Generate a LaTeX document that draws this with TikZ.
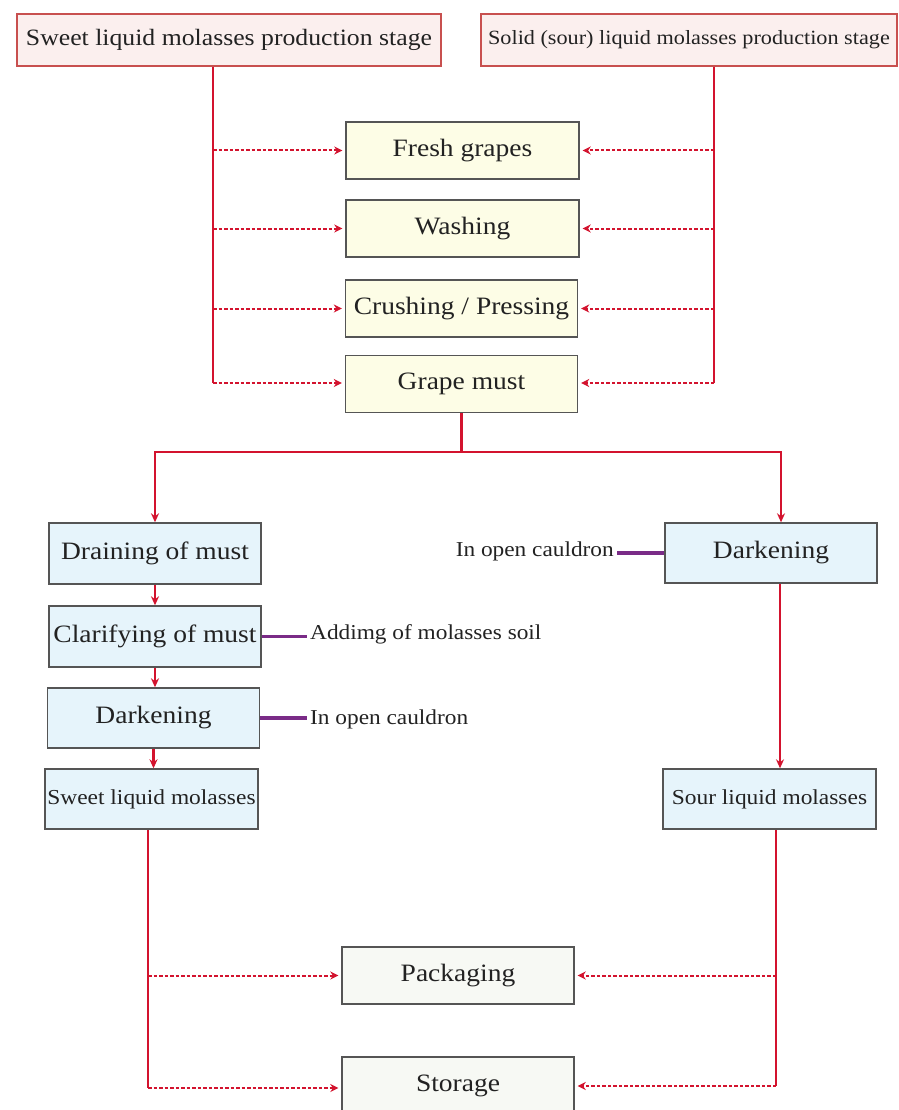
\documentclass[tikz,border=0pt]{standalone}
\usepackage{fontspec}
\setmainfont{Liberation Serif}[FakeStretch=1.1]
\usetikzlibrary{arrows.meta,calc}
\definecolor{redl}{HTML}{D3132E}
\definecolor{purp}{HTML}{7A2B87}
\definecolor{pinkf}{HTML}{FBEFEE}
\definecolor{pinkb}{HTML}{C8504F}
\definecolor{yelf}{HTML}{FDFDE6}
\definecolor{bluf}{HTML}{E6F4FB}
\definecolor{grnf}{HTML}{F7F9F4}
\definecolor{bord}{HTML}{555555}
\definecolor{txt}{HTML}{222222}
\tikzset{
  box/.style={draw=bord, line width=1.4pt, text=txt, inner sep=0pt, align=center},
  topbox/.style={box, draw=pinkb, fill=pinkf, minimum height=52pt, font=\fontsize{23.4}{26}\selectfont},
  ybox/.style={box, fill=yelf, minimum width=233pt, minimum height=57pt, font=\fontsize{25}{28}\selectfont},
  bbox/.style={box, fill=bluf, minimum width=212pt, minimum height=61pt, font=\fontsize{25}{28}\selectfont},
  sbox/.style={bbox, font=\fontsize{21.3}{24}\selectfont},
  gbox/.style={box, fill=grnf, minimum width=232pt, minimum height=57pt, font=\fontsize{25}{28}\selectfont},
  lbl/.style={text=txt, inner sep=3pt, font=\fontsize{21.2}{24}\selectfont},
  redline/.style={draw=redl, line width=2.6pt},
  redarr/.style={draw=redl, line width=2.6pt, -{Stealth[length=9pt,width=8pt]}},
  dasharr/.style={draw=redl, line width=2pt, dash pattern=on 3.5pt off 2pt, -{Stealth[length=8pt,width=8pt]}, shorten >=3pt},
  purpline/.style={draw=purp, line width=3.2pt},
}
\begin{document}
\begin{tikzpicture}[x=1pt,y=-1pt]
\clip (0,0) rectangle (898,1110);
\fill[white] (0,0) rectangle (898,1110);

% top stage boxes
\node[topbox, minimum width=424pt] (tl) at (229,40) {Sweet liquid molasses production stage};
\node[topbox, minimum width=416pt, font=\fontsize{20.2}{24}\selectfont] (tr) at (689,40) {Solid (sour) liquid molasses production stage};

% common steps
\node[ybox] (fg) at (462.5,150.5) {Fresh grapes};
\node[ybox] (wa) at (462.5,228.5) {Washing};
\node[ybox, minimum width=232pt] (cp) at (461.5,308.5) {Crushing / Pressing};
\node[ybox, minimum width=232pt] (gm) at (461.5,384) {Grape must};

% left column
\node[bbox] (dm) at (155,553.5) {Draining of must};
\node[bbox] (cm) at (155,636.5) {Clarifying of must};
\node[bbox, minimum height=60pt] (dk) at (153.5,718) {Darkening};
\node[sbox, minimum height=60pt, minimum width=213pt] (sw) at (151.5,799) {Sweet liquid molasses};

% right column
\node[bbox, minimum height=60pt] (dkr) at (771,553) {Darkening};
\node[sbox, minimum height=60pt, minimum width=213pt] (so) at (769.5,799) {Sour liquid molasses};

% side labels
\node[lbl, anchor=west] (l1) at (307,634) {Addimg of molasses soil};
\node[lbl, anchor=west] (l2) at (307,719) {In open cauldron};
\node[lbl, anchor=east] (l3) at (617,551) {In open cauldron};

% final steps
\node[gbox] (pk) at (458,975.5) {Packaging};
\node[gbox] (st) at (458,1085.5) {Storage};

% trunks top
\coordinate (lt) at (213,383);
\coordinate (rt) at (714,383);
\draw[redline] (tl.south -| lt) -- (lt);
\draw[redline] (tr.south -| rt) -- (rt);
\foreach \n in {fg,wa,cp} {
  \draw[dasharr] (\n.west -| lt) -- (\n.west);
  \draw[dasharr] (\n.east -| rt) -- (\n.east);
}
\draw[dasharr] (lt) -- (lt -| gm.west);
\draw[dasharr] (rt) -- (rt -| gm.east);

% split from grape must
\coordinate (jl) at (155,452);
\coordinate (jr) at (781,452);
\draw[redline] (gm.south) -- (gm.south |- jl);
\draw[redarr] (jl -| gm.south) -- (jl) -- (jl |- dm.north);
\draw[redarr] (jl -| gm.south) -- (jr) -- (jr |- dkr.north);

% left chain
\draw[redarr] (dm.south) -- (dm.south |- cm.north);
\draw[redarr] (cm.south) -- (cm.south |- dk.north);
\draw[redarr] (dk.south) -- (dk.south |- sw.north);

% right chain
\coordinate (rc) at (780,583);
\draw[redarr] (dkr.south -| rc) -- (so.north -| rc);

% purple connectors
\draw[purpline] (cm.east) -- (cm.east -| l1.west);
\draw[purpline] (dk.east) -- (dk.east -| l2.west);
\draw[purpline] (dkr.west -| l3.east) -- (dkr.west);

% bottom trunks
\coordinate (bl) at (148,1088);
\coordinate (br) at (776,1086);
\draw[redline] (sw.south -| bl) -- (bl);
\draw[redline] (so.south -| br) -- (br);
\draw[dasharr] (pk.west -| bl) -- (pk.west);
\draw[dasharr] (pk.east -| br) -- (pk.east);
\draw[dasharr] (bl) -- (bl -| st.west);
\draw[dasharr] (br) -- (br -| st.east);
\end{tikzpicture}
\end{document}
